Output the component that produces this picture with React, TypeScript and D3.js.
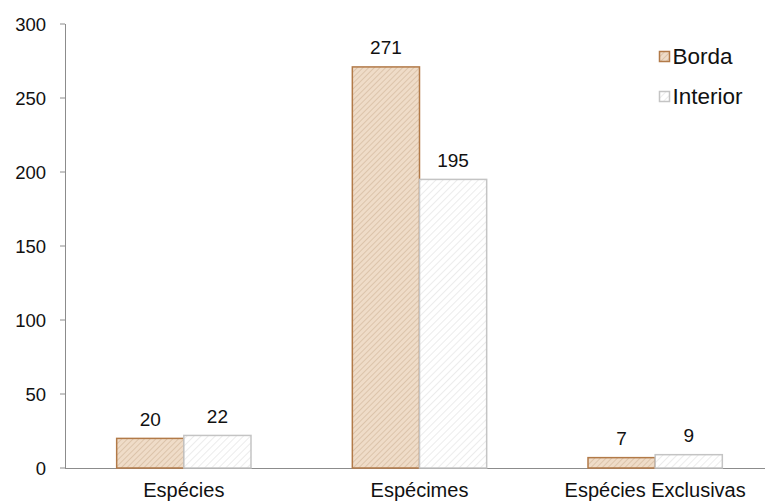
import React from "react";
import * as d3 from "d3";

const categories = ["Espécies", "Espécimes", "Espécies Exclusivas"];
const seriesNames = ["Borda", "Interior"];
const borda = [20, 271, 7];
const interior = [22, 195, 9];
const yTicks = [0, 50, 100, 150, 200, 250, 300];

export default function App() {
  const W = 765, H = 502;
  const left = 65, right = 765, top = 24, bottom = 468;
  const y = d3.scaleLinear().domain([0, 300]).range([bottom, top]);
  const x0 = d3.scaleBand<string>().domain(categories).range([66, 773]).paddingInner(0.43).paddingOuter(0.215);
  const x1 = d3.scaleBand<string>().domain(seriesNames).range([0, x0.bandwidth()]);
  const values = [borda, interior];
  const fills = ["url(#pBorda)", "url(#pInterior)"];
  const strokes = ["#b27a48", "#c4c4c4"];
  const font = "'Liberation Sans', Arial, sans-serif";
  return (
    <svg width={W} height={H} style={{ position: "absolute", left: 0, top: 0, background: "#fff" }} fontFamily={font}>
      <defs>
        <pattern id="pBorda" width="4" height="4" patternUnits="userSpaceOnUse" patternTransform="rotate(45)">
          <rect width="4" height="4" fill="#efdcc8" />
          <line x1="0" y1="0" x2="0" y2="4" stroke="#d2b79c" strokeWidth="1.3" />
        </pattern>
        <pattern id="pInterior" width="5" height="5" patternUnits="userSpaceOnUse" patternTransform="rotate(45)">
          <rect width="5" height="5" fill="#ffffff" />
          <line x1="0" y1="0" x2="0" y2="5" stroke="#e2e2e2" strokeWidth="1.3" />
        </pattern>
      </defs>
      {yTicks.map((t) => (
        <g key={t}>
          <line x1={left - 5} x2={left} y1={y(t)} y2={y(t)} stroke="#8c8c8c" />
          <text x={46} y={y(t) + 6.5} textAnchor="end" fontSize={18.5} fill="#111">{t}</text>
        </g>
      ))}
      <line x1={left + 0.5} x2={left + 0.5} y1={top} y2={bottom} stroke="#8c8c8c" />
      <line x1={left} x2={right} y1={bottom + 0.5} y2={bottom + 0.5} stroke="#8c8c8c" />
      {categories.map((c, ci) => (
        <g key={c}>
          {seriesNames.map((s, si) => {
            const v = values[si][ci];
            const bx = (x0(c) as number) + (x1(s) as number);
            const bw = x1.bandwidth();
            return (
              <g key={s}>
                <rect x={bx} y={y(v)} width={bw} height={bottom - y(v)} fill={fills[si]} stroke={strokes[si]} strokeWidth={1.5} />
                <text x={bx + bw / 2} y={y(v) - 12.5} textAnchor="middle" fontSize={19} fill="#111">{v}</text>
              </g>
            );
          })}
          <text x={(x0(c) as number) + x0.bandwidth() / 2} y={497} textAnchor="middle" fontSize={20} fill="#111">{c}</text>
        </g>
      ))}
      {seriesNames.map((s, si) => (
        <g key={s} transform={`translate(659, ${51 + si * 40})`}>
          <rect x={0.5} y={0.5} width={10} height={10} fill={fills[si]} stroke={strokes[si]} strokeWidth={1.5} />
          <text x={13.5} y={12.5} fontSize={22.5} fill="#111">{s}</text>
        </g>
      ))}
    </svg>
  );
}
